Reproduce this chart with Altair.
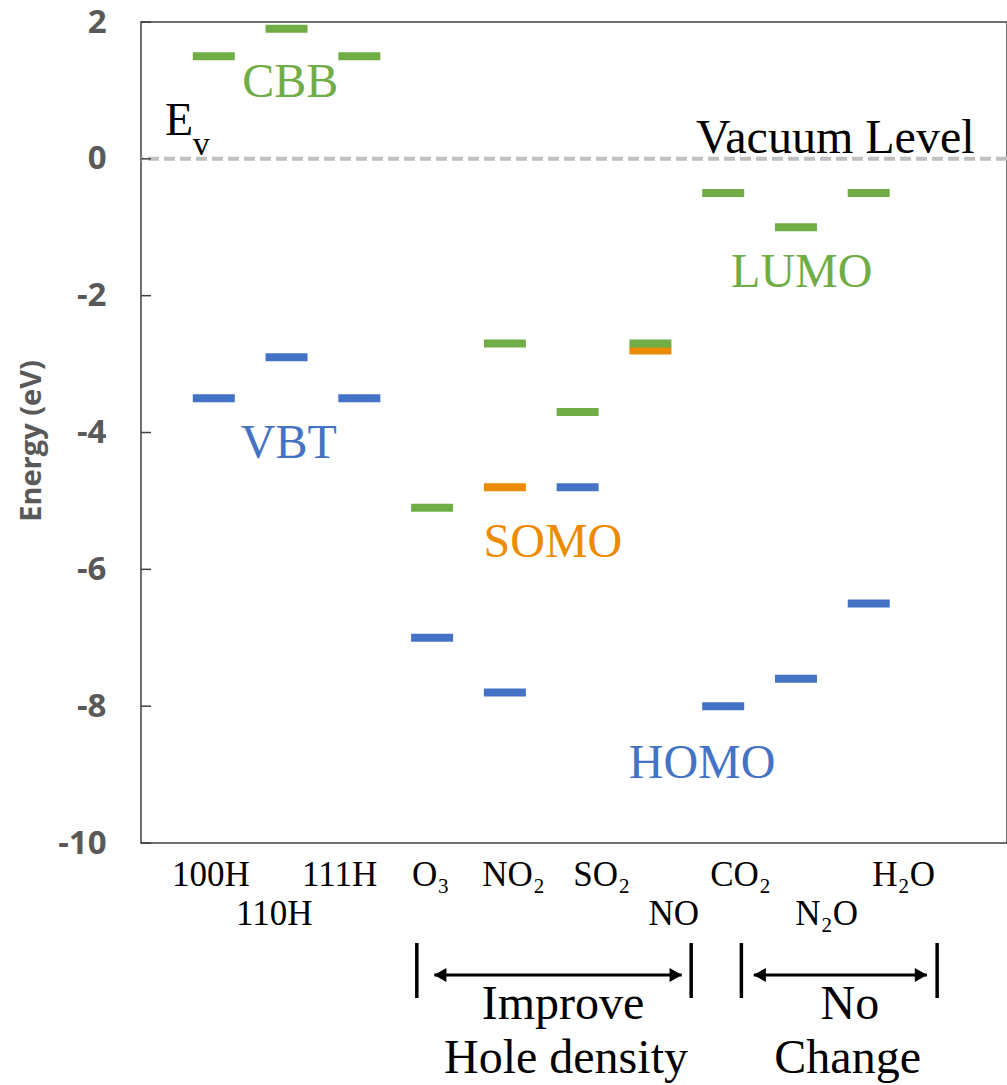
import altair as alt
import pandas as pd

# ---------------- data ----------------
categories = ["100H", "110H", "111H", "O3", "NO2", "SO2", "NO", "CO2", "N2O", "H2O"]
cat_pos = [1, 2, 3, 4, 5, 6, 7, 8, 9, 10]
upper_levels = [1.5, 1.9, 1.5, -5.1, -2.7, -3.7, -2.7, -0.5, -1.0, -0.5]      # CBB / LUMO
lower_levels = [-3.5, -2.9, -3.5, -7.0, -7.8, -4.8, None, -8.0, -7.6, -6.5]  # VBT / HOMO
somo_levels = [None, None, None, None, -4.8, None, -2.8, None, None, None]   # SOMO

y_ticks = [2, 0, -2, -4, -6, -8, -10]
y_title = "Energy (eV)"

tick_labels = ["100H", "110H", "111H", "O₃", "NO₂", "SO₂", "NO", "CO₂", "N₂O", "H₂O"]
tick_label_x = [0.96, 1.83, 2.73, 3.98, 5.12, 6.33, 7.32, 8.24, 9.42, 10.48]
tick_label_row = [1, 2, 1, 1, 1, 1, 2, 1, 2, 1]

ann_text = ["CBB", "VBT", "LUMO", "SOMO", "HOMO", "Vacuum Level"]
ann_x = [2.05, 2.03, 9.08, 5.66, 7.71, 9.54]
ann_y = [0.90, -4.37, -1.87, -5.82, -9.05, 0.085]
ann_color = ["#70AD47", "#4472C4", "#70AD47", "#ED8B00", "#4472C4", "#000000"]

bracket_x = [3.79, 7.56, 8.25, 10.94]
arrow_start = [4.03, 8.42]
arrow_end = [7.43, 10.80]
group_text = ["Improve", "Hole density", "No", "Change"]
group_x = [5.80, 5.84, 9.74, 9.71]
group_row = [1, 2, 1, 2]

GREEN, BLUE, ORANGE = "#70AD47", "#4472C4", "#ED8B00"
SERIF = "Liberation Serif"

# ---------------- tables ----------------
rows = []
for i, p in enumerate(cat_pos):
    if somo_levels[i] is not None:
        rows.append({"pos": p, "energy": somo_levels[i], "kind": "SOMO"})
    if lower_levels[i] is not None:
        rows.append({"pos": p, "energy": lower_levels[i], "kind": "lower"})
    rows.append({"pos": p, "energy": upper_levels[i], "kind": "upper"})
levels_df = pd.DataFrame(rows)

xs = alt.Scale(domain=[0, 11.9], nice=False, zero=False)
ys = alt.Scale(domain=[-10, 2], nice=False, zero=False)

W, H = 866, 821

bars = alt.Chart(levels_df).mark_tick(
    orient="horizontal", size=42, thickness=8, opacity=1
).encode(
    x=alt.X("pos:Q", scale=xs, axis=None),
    y=alt.Y(
        "energy:Q",
        scale=ys,
        axis=alt.Axis(
            values=y_ticks,
            title=None,
            labelExpr="datum.value + ''",
            labelFont="Open Sans",
            labelFontWeight="bold",
            labelFontSize=33,
            labelColor="#595959",
            labelPadding=35,
            ticks=False,
            domain=False,
            grid=False,
        ),
    ),
    color=alt.Color(
        "kind:N",
        scale=alt.Scale(domain=["upper", "lower", "SOMO"], range=[GREEN, BLUE, ORANGE]),
        legend=None,
    ),
)

title_txt = alt.Chart(pd.DataFrame({"t": [y_title]})).mark_text(
    font="Open Sans", fontWeight="bold", fontSize=29, color="#595959",
    angle=270, align="center", baseline="alphabetic",
).encode(x=alt.value(-100), y=alt.value(419), text="t:N")

vac = alt.Chart(pd.DataFrame({"e": [0]})).mark_rule(
    strokeDash=[11, 5], strokeWidth=4, color="#BFBFBF"
).encode(y=alt.Y("e:Q", scale=ys))

inner_ticks = alt.Chart(pd.DataFrame({"t": y_ticks})).mark_rule(
    color="#404040", strokeWidth=1.5
).encode(y=alt.Y("t:Q", scale=ys), x=alt.value(0), x2=alt.value(10))

ann_df = pd.DataFrame({"text": ann_text, "x": ann_x, "y": ann_y, "c": ann_color})
ann = alt.Chart(ann_df).mark_text(
    font=SERIF, fontSize=48, baseline="alphabetic", align="center"
).encode(
    x=alt.X("x:Q", scale=xs),
    y=alt.Y("y:Q", scale=ys),
    text="text:N",
    color=alt.Color("c:N", scale=None),
)

ev_big = alt.Chart(pd.DataFrame({"t": ["E"], "x": [0.33], "y": [0.35]})).mark_text(
    font=SERIF, fontSize=46, baseline="alphabetic", align="left", color="black"
).encode(x=alt.X("x:Q", scale=xs), y=alt.Y("y:Q", scale=ys), text="t:N")
ev_sub = alt.Chart(pd.DataFrame({"t": ["v"], "x": [0.71], "y": [0.055]})).mark_text(
    font=SERIF, fontSize=34, baseline="alphabetic", align="left", color="black"
).encode(x=alt.X("x:Q", scale=xs), y=alt.Y("y:Q", scale=ys), text="t:N")

lab_df = pd.DataFrame({"label": tick_labels, "x": tick_label_x, "row": tick_label_row})
lab1 = alt.Chart(lab_df).transform_filter("datum.row == 1").mark_text(
    font=SERIF, fontSize=35, baseline="alphabetic", align="center", color="black"
).encode(x=alt.X("x:Q", scale=xs), y=alt.value(864), text="label:N")
lab2 = alt.Chart(lab_df).transform_filter("datum.row == 2").mark_text(
    font=SERIF, fontSize=35, baseline="alphabetic", align="center", color="black"
).encode(x=alt.X("x:Q", scale=xs), y=alt.value(903), text="label:N")

brackets = alt.Chart(pd.DataFrame({"bx": bracket_x})).mark_rule(
    color="black", strokeWidth=3.5
).encode(x=alt.X("bx:Q", scale=xs), y=alt.value(921), y2=alt.value(976))

arr_df = pd.DataFrame({"a0": arrow_start, "a1": arrow_end})
arrows = alt.Chart(arr_df).mark_rule(color="black", strokeWidth=3).encode(
    x=alt.X("a0:Q", scale=xs), x2="a1:Q", y=alt.value(953)
)
head_l = alt.Chart(arr_df).mark_point(
    shape="triangle-left", filled=True, size=200, color="black", opacity=1, xOffset=6
).encode(x=alt.X("a0:Q", scale=xs), y=alt.value(953))
head_r = alt.Chart(arr_df).mark_point(
    shape="triangle-right", filled=True, size=200, color="black", opacity=1, xOffset=-6
).encode(x=alt.X("a1:Q", scale=xs), y=alt.value(953))

grp_df = pd.DataFrame({"t": group_text, "x": group_x, "row": group_row})
grp1 = alt.Chart(grp_df).transform_filter("datum.row == 1").mark_text(
    font=SERIF, fontSize=48, baseline="alphabetic", align="center", color="black"
).encode(x=alt.X("x:Q", scale=xs), y=alt.value(997), text="t:N")
grp2 = alt.Chart(grp_df).transform_filter("datum.row == 2").mark_text(
    font=SERIF, fontSize=48, baseline="alphabetic", align="center", color="black"
).encode(x=alt.X("x:Q", scale=xs), y=alt.value(1051), text="t:N")

chart = alt.layer(
    vac, inner_ticks, bars, title_txt, ann, ev_big, ev_sub, lab1, lab2,
    brackets, arrows, head_l, head_r, grp1, grp2,
).properties(
    width=W,
    height=H,
    autosize=alt.AutoSizeParams(type="none"),
    padding={"left": 141, "top": 22, "right": 0, "bottom": 242},
    background="white",
).configure_view(
    stroke="#404040", strokeWidth=1.5
)

chart.save("out.html", embed_options={"renderer": "svg", "actions": False})
